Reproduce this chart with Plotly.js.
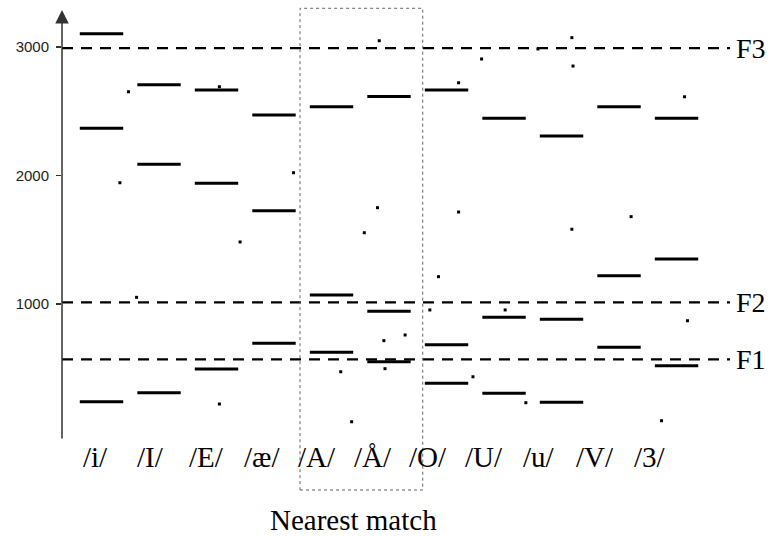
<!DOCTYPE html>
<html><head><meta charset="utf-8">
<script src="https://cdn.plot.ly/plotly-3.0.1.min.js"></script>
<style>html,body{margin:0;padding:0;background:#fff}#chart{width:775px;height:536px}</style>
</head><body><div id="chart"></div>
<script>
// Categories (vowels) and formant values
const vowels = ['/i/','/I/','/E/','/æ/','/A/','/Å/','/O/','/U/','/u/','/V/','/3/'];
const f3Vals = [3103,2706,2665,2470,2535,2615,2665,2444,2307,2535,2444];
const f2Vals = [2366,2086,1938,1725,1069,942,682,896,880,1219,1349];
const f1Vals = [239,309,493,693,623,550,382,304,234,662,519];
// Scattered single points (position on the category scale, value)
const dotPos  = [0.47,0.32,0.61,2.05,2.05,2.41,3.34,4.83,4.80,4.57,5.86,5.71,4.91,5.28,4.93,4.16,6.46,4.35,8.18,6.61,7.59,8.20,6.21,10.14,6.21,9.21,8.18,7.02,10.19,7.38,9.74];
const dotVals = [2651,1943,1051,2690,221,1482,2021,3048,1749,1554,1212,953,714,758,496,472,433,83,3072,2906,2984,2851,2721,2612,1715,1679,1581,953,869,231,91];
// Reference formant lines
const lineVals  = [2991,1012,569];
const lineNames = ['F3','F2','F1'];
const yTicks = [1000,2000,3000];
const boxLabel = 'Nearest match';

const idx = vowels.map((v,i)=>i);
const barMarker = {symbol:'line-ew', size:31, color:'#000', line:{color:'#000', width:3}};
const mkBars = (vals)=>({type:'scatter', mode:'markers', x:idx, y:vals, marker:barMarker, hoverinfo:'skip', cliponaxis:false});

const traces = [
  mkBars(f3Vals), mkBars(f2Vals), mkBars(f1Vals),
  {type:'scatter', mode:'markers', x:dotPos, y:dotVals,
   marker:{symbol:'square', size:3, color:'#000', line:{width:0}}, hoverinfo:'skip', cliponaxis:false}
];

const serif = 'Liberation Serif, Times New Roman, serif';
const shapes = lineVals.map(v=>({type:'line', xref:'paper', x0:0, x1:1, yref:'y', y0:v, y1:v,
  line:{color:'#000', width:2.3, dash:'11px,8px'}}));
shapes.push({type:'rect', xref:'paper', yref:'paper', x0:0.3563, x1:0.540, y0:-0.1196, y1:1.0328,
  line:{color:'#666', width:1, dash:'dot'}, fillcolor:'rgba(0,0,0,0)'});

const annotations = [];
// y axis with arrow
annotations.push({xref:'paper', yref:'paper', x:0, y:1.0287, ax:0, ay:430, axref:'pixel', ayref:'pixel',
  text:'', showarrow:true, arrowhead:2, arrowsize:1.8, arrowwidth:1.5, arrowcolor:'#333', standoff:0});
lineVals.forEach((v,i)=>annotations.push({xref:'paper', yref:'y', x:1, y:v, xanchor:'left', yanchor:'middle',
  xshift:4, text:lineNames[i], showarrow:false, font:{family:serif, size:28, color:'#000'}}));
vowels.forEach((v,i)=>annotations.push({xref:'x', yref:'paper', x:-0.108+0.965*i, y:-0.040,
  xanchor:'center', yanchor:'middle', text:v, showarrow:false, font:{family:serif, size:29, color:'#000'}}));
annotations.push({xref:'paper', yref:'paper', x:0.3083, y:-0.1914, xanchor:'left', yanchor:'middle',
  text:boxLabel, showarrow:false, font:{family:serif, size:29, color:'#000'}});

const layout = {
  width:775, height:536, margin:{l:62, r:45, t:22, b:96},
  paper_bgcolor:'#fff', plot_bgcolor:'#fff', showlegend:false,
  xaxis:{range:[-0.687,10.93], visible:false, fixedrange:true},
  yaxis:{range:[-59.1,3193.8], tickvals:yTicks, ticktext:yTicks.map(String), ticks:'outside', ticklen:5,
    tickwidth:1.5, tickcolor:'#333', showgrid:false, zeroline:false, showline:false, ticklabelstandoff:4,
    tickfont:{family:'Liberation Sans, Arial, sans-serif', size:15, color:'#222'}, fixedrange:true},
  shapes:shapes, annotations:annotations
};
Plotly.newPlot('chart', traces, layout, {displayModeBar:false, staticPlot:true});
</script></body></html>
